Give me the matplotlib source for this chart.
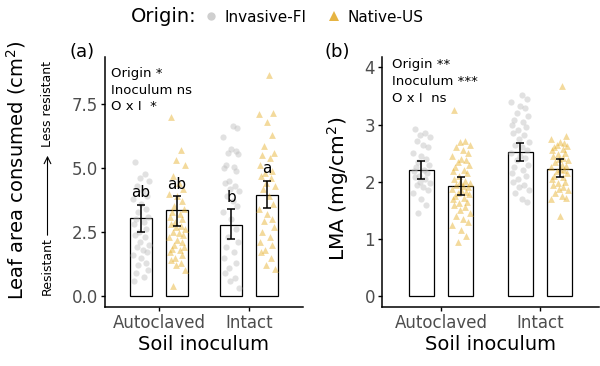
import matplotlib
matplotlib.use("Agg")
import matplotlib.pyplot as plt
from matplotlib.lines import Line2D

# ---- data ----
soil = ["Autoclaved", "Intact"]
origins = ["Invasive-FI", "Native-US"]

# (a) leaf area consumed, bar means and error bar ends
leaf_mean = {"Invasive-FI": [3.03, 2.79], "Native-US": [3.36, 3.96]}
leaf_lo = {"Invasive-FI": [2.50, 2.21], "Native-US": [2.75, 3.45]}
leaf_hi = {"Invasive-FI": [3.55, 3.39], "Native-US": [3.90, 4.49]}
leaf_letters = {"Invasive-FI": ["ab", "b"], "Native-US": ["ab", "a"]}

leaf_inv_auto = [5.25, 4.75, 4.6, 4.5, 4.3, 4.1, 3.9, 3.8, 3.6, 3.4, 3.3, 3.1,
                 3.0, 2.9, 2.8, 2.6, 2.5, 2.4, 2.3, 2.1, 2.0, 1.9, 1.8, 1.7,
                 1.6, 1.5, 1.3, 1.2, 1.0, 0.9, 0.75, 0.6]
leaf_nat_auto = [7.0, 5.7, 5.3, 5.1, 4.7, 4.4, 4.2, 4.0, 3.9, 3.7, 3.5, 3.4,
                 3.3, 3.2, 3.1, 3.0, 2.9, 2.8, 2.75, 2.7, 2.6, 2.5, 2.45, 2.4,
                 2.3, 2.2, 2.1, 2.0, 1.9, 1.85, 1.8, 1.7, 1.6, 1.5, 1.4, 1.3,
                 1.2, 1.0, 0.4]
leaf_inv_int = [6.65, 6.55, 6.2, 5.75, 5.65, 5.6, 5.55, 5.1, 5.05, 5.0, 4.9,
                4.5, 4.4, 4.3, 4.2, 4.1, 3.9, 3.7, 3.5, 3.3, 3.0, 2.6, 2.3,
                2.1, 1.9, 1.7, 1.5, 1.3, 1.1, 0.9, 0.7, 0.6, 0.3]
leaf_nat_int = [8.65, 7.15, 7.1, 6.8, 6.3, 5.85, 5.6, 5.5, 5.4, 5.1, 4.9, 4.8,
                4.7, 4.6, 4.4, 4.3, 4.2, 3.9, 3.6, 3.4, 3.2, 3.0, 2.95, 2.7,
                2.5, 2.3, 2.1, 2.0, 1.8, 1.7, 1.5, 1.2, 1.05]

# (b) LMA
lma_mean = {"Invasive-FI": [2.20, 2.52], "Native-US": [1.93, 2.23]}
lma_lo = {"Invasive-FI": [2.04, 2.36], "Native-US": [1.77, 2.08]}
lma_hi = {"Invasive-FI": [2.36, 2.68], "Native-US": [2.09, 2.39]}

lma_inv_auto = [2.92, 2.85, 2.82, 2.78, 2.72, 2.65, 2.6, 2.5, 2.45, 2.4, 2.35,
                2.3, 2.25, 2.2, 2.18, 2.15, 2.1, 2.08, 2.05, 2.0, 1.97, 1.95,
                1.9, 1.85, 1.8, 1.7, 1.6, 1.45]
lma_nat_auto = [3.25, 2.72, 2.7, 2.65, 2.6, 2.55, 2.5, 2.45, 2.4, 2.38, 2.35,
                2.3, 2.25, 2.2, 2.18, 2.15, 2.1, 2.05, 2.02, 2.0, 1.98, 1.95,
                1.92, 1.9, 1.88, 1.85, 1.82, 1.8, 1.78, 1.75, 1.72, 1.7, 1.65,
                1.62, 1.6, 1.55, 1.5, 1.45, 1.4, 1.35, 1.3, 1.25, 1.15, 1.05,
                0.95]
lma_inv_int = [3.52, 3.45, 3.4, 3.33, 3.28, 3.2, 3.15, 3.08, 3.05, 3.0, 2.95,
               2.9, 2.85, 2.82, 2.75, 2.7, 2.65, 2.6, 2.55, 2.5, 2.45, 2.42,
               2.38, 2.3, 2.25, 2.2, 2.15, 2.1, 2.05, 2.0, 1.95, 1.9, 1.85,
               1.8, 1.7, 1.65]
lma_nat_int = [3.68, 2.8, 2.75, 2.7, 2.68, 2.65, 2.62, 2.6, 2.58, 2.55, 2.5,
               2.48, 2.45, 2.42, 2.4, 2.38, 2.35, 2.3, 2.28, 2.25, 2.22, 2.2,
               2.18, 2.15, 2.1, 2.08, 2.05, 2.0, 1.98, 1.95, 1.9, 1.88, 1.85,
               1.8, 1.75, 1.72, 1.7, 1.4]

leaf_points = {"Invasive-FI": [leaf_inv_auto, leaf_inv_int],
               "Native-US": [leaf_nat_auto, leaf_nat_int]}
lma_points = {"Invasive-FI": [lma_inv_auto, lma_inv_int],
              "Native-US": [lma_nat_auto, lma_nat_int]}

# ---- styles ----
# fixed spread pattern for the jittered points (fraction of half-width)
JITTER = [-0.7, 0.4, -0.1, 0.9, -0.5, 0.2, 0.7, -0.9, 0.0, 0.5, -0.3, 0.8,
          -0.6, 0.3, -0.8, 0.6, -0.2]
styles = {"Invasive-FI": dict(marker="o", color="#bdbdbd", s=20, alpha=0.45),
          "Native-US": dict(marker="^", color="#e6ad25", s=24, alpha=0.45)}
offset = {"Invasive-FI": -0.2, "Native-US": 0.2}
BAR_W = 0.255
TICK_GREY = "#4d4d4d"

W, H = 600, 366
fig = plt.figure(figsize=(W / 100, H / 100), dpi=100)


def fx(px):
    return px / W


def fy(px):
    return 1 - px / H


def panel(ax, means, lo, hi, points, ylim, yticks, ylabels):
    for org in origins:
        xs = [i + 1 + offset[org] for i in range(len(soil))]
        ax.bar(xs, means[org], width=BAR_W, facecolor="white",
               edgecolor="black", linewidth=0.9, zorder=1)
        for i, vals in enumerate(points[org]):
            px = [xs[i] + 0.1 * JITTER[(k + 5 * i) % len(JITTER)]
                  for k in range(len(vals))]
            ax.scatter(px, vals, linewidths=0, zorder=2, **styles[org])
        yerr = [[m - l for m, l in zip(means[org], lo[org])],
                [h - m for m, h in zip(means[org], hi[org])]]
        ax.errorbar(xs, means[org], yerr=yerr, fmt="none", ecolor="black",
                    elinewidth=1.1, capsize=2.6, capthick=1.1, zorder=3)
    ax.set_xlim(0.4, 2.6)
    ax.set_ylim(*ylim)
    ax.set_xticks([1, 2])
    ax.set_xticklabels(soil)
    ax.set_yticks(yticks)
    ax.set_yticklabels(ylabels)
    for side in ["top", "right"]:
        ax.spines[side].set_visible(False)
    for side in ["left", "bottom"]:
        ax.spines[side].set_linewidth(1.1)
    ax.tick_params(length=3, width=1.0, colors="black", labelsize=12,
                   labelcolor=TICK_GREY, pad=2)
    ax.set_xlabel("Soil inoculum", fontsize=14, labelpad=2)


ax_a = fig.add_axes([fx(105), fy(307), fx(198), (307 - 57) / H])
panel(ax_a, leaf_mean, leaf_lo, leaf_hi, leaf_points, (-0.43, 9.34),
      [0, 2.5, 5.0, 7.5], ["0.0", "2.5", "5.0", "7.5"])
for org in origins:
    for i in range(2):
        ax_a.text(i + 1 + offset[org], leaf_hi[org][i] + 0.3,
                  leaf_letters[org][i], ha="center", va="baseline",
                  fontsize=11, zorder=4)
ax_a.text(0.03, 0.868, "Origin *\nInoculum ns\nO x I  *",
          transform=ax_a.transAxes, ha="left", va="center", fontsize=9.5,
          linespacing=1.4)

ax_b = fig.add_axes([fx(382), fy(307), fx(217), (307 - 57) / H])
panel(ax_b, lma_mean, lma_lo, lma_hi, lma_points, (-0.19, 4.18),
      [0, 1, 2, 3, 4], ["0", "1", "2", "3", "4"])
ax_b.text(0.045, 0.995, "Origin **\nInoculum ***\nO x I  ns",
          transform=ax_b.transAxes, ha="left", va="top", fontsize=9.5,
          linespacing=1.4)

# axis titles and panel tags
fig.text(fx(16), fy(170), "Leaf area consumed (cm$^{2}$)", rotation=90,
         ha="center", va="center", fontsize=14)
fig.text(fx(47.5), fy(266), "Resistant", rotation=90, ha="center",
         va="center", fontsize=9)
fig.text(fx(47.5), fy(104), "Less resistant", rotation=90, ha="center",
         va="center", fontsize=9)
fig.add_artist(matplotlib.patches.FancyArrowPatch(
    (fx(47.5), fy(238)), (fx(47.5), fy(153)), transform=fig.transFigure,
    arrowstyle="->", mutation_scale=12, linewidth=0.8, color="black"))
fig.text(fx(338), fy(189), "LMA (mg/cm$^{2}$)", rotation=90, ha="center",
         va="center", fontsize=14.5)
fig.text(fx(82), fy(52), "(a)", ha="center", va="center", fontsize=13)
fig.text(fx(337), fy(52), "(b)", ha="center", va="center", fontsize=13)

# legend
fig.text(fx(131), fy(17), "Origin:", ha="left", va="center", fontsize=14)
handles = [Line2D([], [], linestyle="none", marker="o", markersize=6,
                  markerfacecolor="#cfcfcf", markeredgewidth=0),
           Line2D([], [], linestyle="none", marker="^", markersize=7,
                  markerfacecolor="#e6b443", markeredgewidth=0)]
fig.legend(handles, origins, loc="center left",
           bbox_to_anchor=(fx(203), fy(17)), ncol=2, frameon=False,
           fontsize=11, handlelength=1.0, handletextpad=0.4,
           columnspacing=1.3, borderpad=0, borderaxespad=0)

fig.savefig("out.png", dpi=100)
